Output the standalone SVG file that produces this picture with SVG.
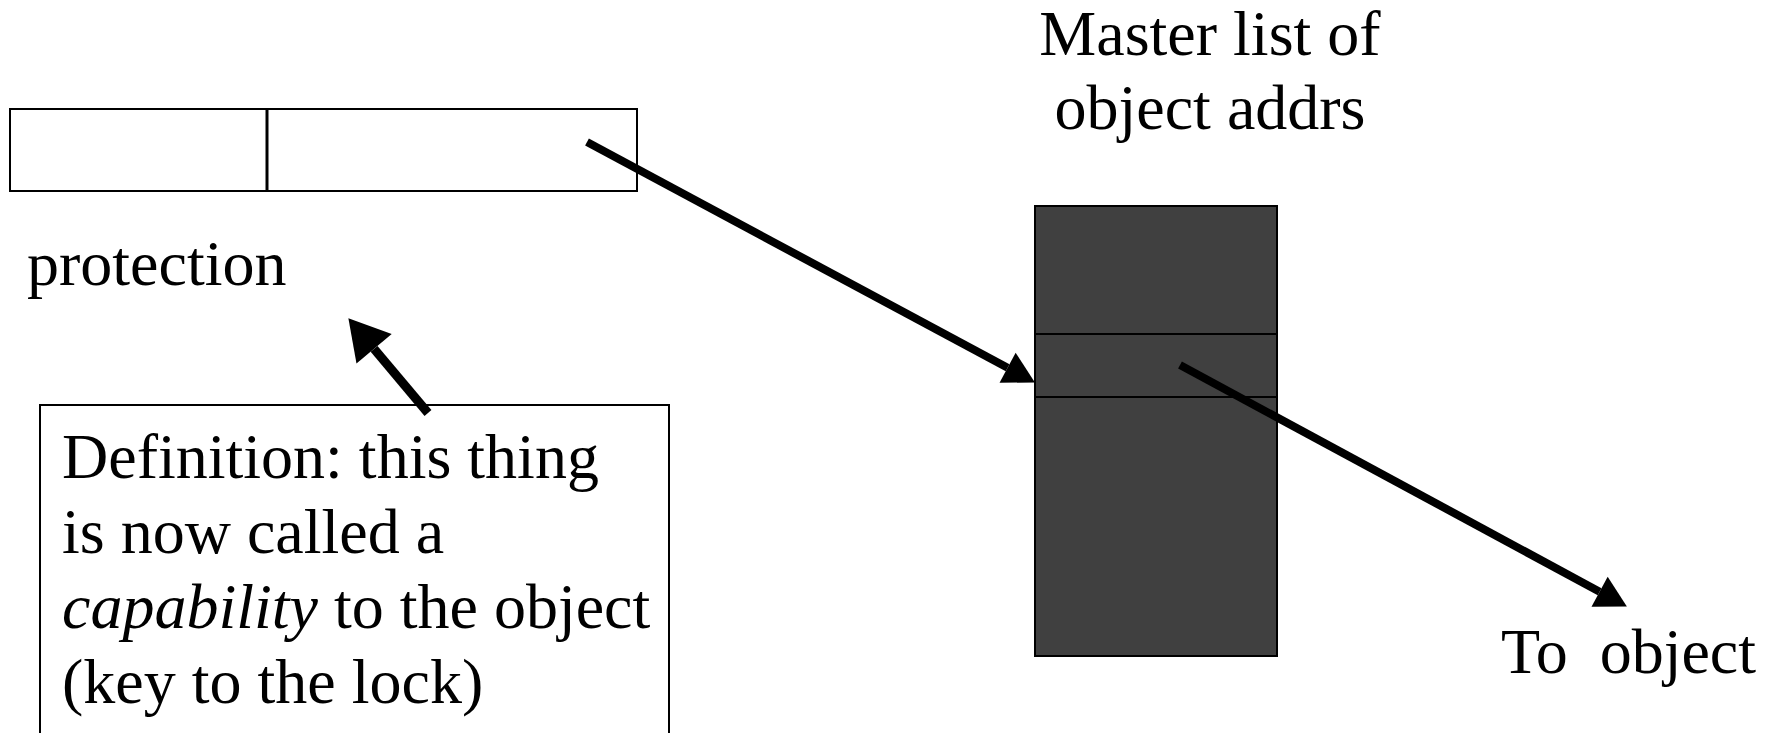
<svg xmlns="http://www.w3.org/2000/svg" width="1775" height="733" viewBox="0 0 1775 733">
  <style>
    .lbl { font-family: "Liberation Serif", "Times New Roman", serif; font-size: 64px; fill: #000; }
    .it { font-style: italic; }
    .box { fill: #fff; stroke: #000; stroke-width: 2; }
    .conn { stroke: #000; fill: none; }
  </style>
  <defs>
    <marker id="head" markerUnits="userSpaceOnUse" markerWidth="40" markerHeight="40" viewBox="0 -20 40 40" refX="0" refY="0" orient="auto" overflow="visible">
      <path d="M0,-17 L31,0 L0,17 Z" fill="#000"/>
    </marker>
    <marker id="head-lg" markerUnits="userSpaceOnUse" markerWidth="50" markerHeight="50" viewBox="0 -25 50 50" refX="0" refY="0" orient="auto" overflow="visible">
      <path d="M0,-23 L40,0 L0,23 Z" fill="#000"/>
    </marker>
  </defs>

  <rect width="1775" height="733" fill="#fff"/>

  <!-- capability record: protection field + object index field -->
  <g id="capability-record">
    <rect class="box" x="10" y="109" width="627" height="82"/>
    <line x1="267" y1="109" x2="267" y2="191" stroke="#000" stroke-width="3"/>
  </g>

  <g id="protection-label">
    <text class="lbl" x="27" y="285">protection</text>
  </g>

  <!-- master table of object addresses -->
  <g id="master-list">
    <text class="lbl" x="1210" y="55" text-anchor="middle">Master list of</text>
    <text class="lbl" x="1210" y="129" text-anchor="middle">object addrs</text>
    <rect x="1035" y="206" width="242" height="450" fill="#404040" stroke="#000" stroke-width="2"/>
    <line x1="1035" y1="334" x2="1277" y2="334" stroke="#000" stroke-width="2"/>
    <line x1="1035" y1="397" x2="1277" y2="397" stroke="#000" stroke-width="2"/>
  </g>

  <g id="to-object">
    <text class="lbl" x="1501" y="673" xml:space="preserve">To  object</text>
  </g>

  <!-- definition callout -->
  <g id="definition">
    <rect class="box" x="40" y="405" width="629" height="400"/>
    <text class="lbl" x="62" y="478">Definition: this thing</text>
    <text class="lbl" x="62" y="553">is now called a</text>
    <text class="lbl" x="62" y="628"><tspan class="it">capability</tspan> to the object</text>
    <text class="lbl" x="62" y="703">(key to the lock)</text>
  </g>

  <g id="connectors">
    <line class="conn" x1="587" y1="142" x2="1007.6" y2="367.8" stroke-width="8" marker-end="url(#head)"/>
    <line class="conn" x1="1180" y1="365" x2="1599.6" y2="591.7" stroke-width="8" marker-end="url(#head)"/>
    <line class="conn" x1="428" y1="413" x2="374.1" y2="348.8" stroke-width="9" marker-end="url(#head-lg)"/>
  </g>
</svg>
